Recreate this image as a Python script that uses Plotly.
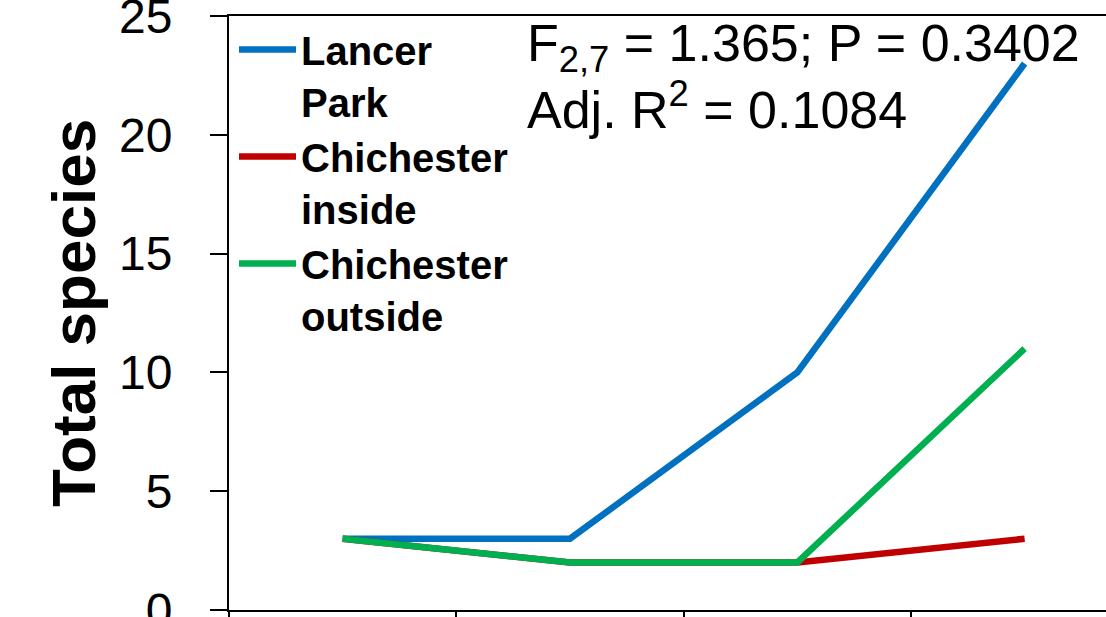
import plotly.graph_objects as go

# Sampling periods (category axis; labels are not shown)
periods = ["1", "2", "3", "4"]

# Total species recorded per site
lancer_park = [3, 3, 10, 23]
chichester_inside = [3, 2, 2, 3]
chichester_outside = [3, 2, 2, 11]

series_names = ["Lancer<br>Park", "Chichester<br>inside", "Chichester<br>outside"]
series_colors = ["#0070C0", "#C00000", "#00B050"]

y_ticks = [0, 5, 10, 15, 20, 25]

stats_line1 = "F<sub>2,7</sub> = 1.365; P = 0.3402"
stats_line2 = "Adj. R<sup>2</sup> = 0.1084"

FONT = "Liberation Sans, Arial, sans-serif"

fig = go.Figure()
for name, values, color in zip(series_names,
                               [lancer_park, chichester_inside, chichester_outside],
                               series_colors):
    fig.add_trace(go.Scatter(
        x=periods, y=values, name=name, mode="lines",
        line=dict(color=color, width=6.5),
    ))

fig.update_layout(
    width=1106, height=617,
    margin=dict(l=229, r=0, t=16, b=7, autoexpand=False),
    plot_bgcolor="white", paper_bgcolor="white",
    font=dict(family=FONT, color="black"),
    showlegend=True,
    legend=dict(
        x=0.0057, y=0.9983, xanchor="left", yanchor="top", valign="top",
        font=dict(family=FONT, size=40, color="black", weight="bold"),
        bgcolor="rgba(0,0,0,0)", itemwidth=57, tracegroupgap=0,
        maxheight=600,
    ),
    xaxis=dict(
        type="category", range=[-0.5, 3.358], automargin=False,
        showline=True, linecolor="black", linewidth=2, mirror=True,
        ticks="outside", ticklen=17, tickwidth=1.5, tickcolor="black",
        tickson="boundaries", showticklabels=False, showgrid=False,
        zeroline=False,
    ),
    yaxis=dict(
        range=[0, 25], tickvals=y_ticks, automargin=False,
        showline=True, linecolor="black", linewidth=2,
        ticks="outside", ticklen=17, tickwidth=1.5, tickcolor="black",
        ticklabelstandoff=28, ticklabeloverflow="allow",
        tickfont=dict(family=FONT, size=48, color="black"),
        showgrid=False, zeroline=False,
        title=dict(text="Total species", standoff=3,
                   font=dict(family=FONT, size=62, color="black", weight="bold")),
    ),
)

fig.add_annotation(
    xref="paper", yref="paper", x=0.338, y=1.0059, xanchor="left", yanchor="top",
    text=stats_line1, showarrow=False,
    font=dict(family=FONT, size=52, color="black"),
)
fig.add_annotation(
    xref="paper", yref="paper", x=0.338, y=0.908, xanchor="left", yanchor="top",
    text=stats_line2, showarrow=False,
    font=dict(family=FONT, size=52, color="black"),
)

fig.write_html("out.html")
